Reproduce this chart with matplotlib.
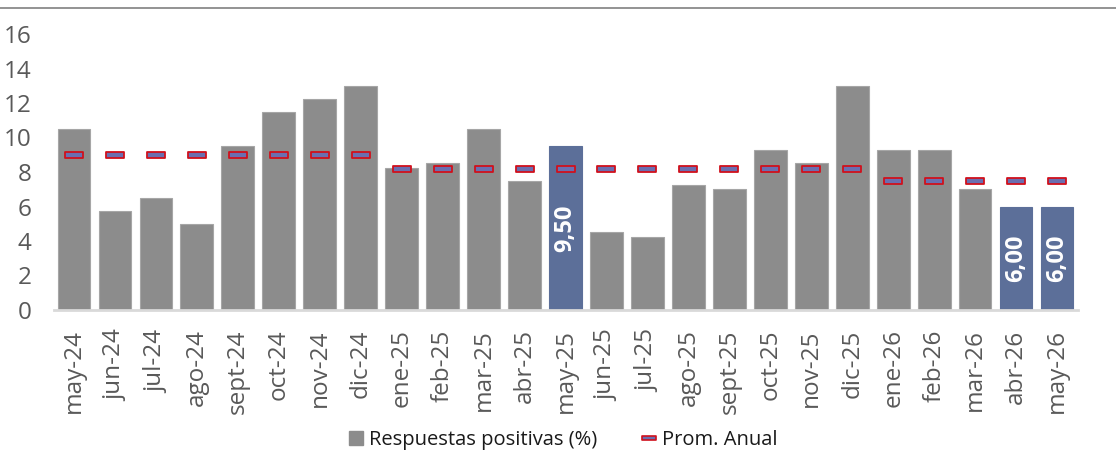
import matplotlib
matplotlib.use("Agg")
import matplotlib.pyplot as plt
from matplotlib.path import Path
from matplotlib.lines import Line2D
from matplotlib.patches import Patch

plt.rcParams['font.family'] = ['Open Sans', 'DejaVu Sans']

months = ["may-24", "jun-24", "jul-24", "ago-24", "sept-24", "oct-24", "nov-24", "dic-24",
          "ene-25", "feb-25", "mar-25", "abr-25", "may-25", "jun-25", "jul-25", "ago-25",
          "sept-25", "oct-25", "nov-25", "dic-25", "ene-26", "feb-26", "mar-26", "abr-26", "may-26"]
respuestas = [10.5, 5.75, 6.5, 5.0, 9.5, 11.5, 12.25, 13.0,
              8.25, 8.5, 10.5, 7.5, 9.5, 4.5, 4.25, 7.25,
              7.0, 9.25, 8.5, 13.0, 9.25, 9.25, 7.0, 6.0, 6.0]
prom_anual = [9.0] * 8 + [8.15] * 12 + [7.5] * 5
highlight = ["may-25", "abr-26", "may-26"]

W, H = 1116, 468
fig = plt.figure(figsize=(W / 100, H / 100), dpi=100)
ax = fig.add_axes([53.5 / W, 1 - 310 / H, (1077.5 - 53.5) / W, (310 - 34) / H])

x = list(range(len(months)))
gray = "#8c8c8c"
blue = "#5c6f99"
colors = [blue if m in highlight else gray for m in months]
edges = ["#5c6f99" if m in highlight else "#a6a6a6" for m in months]
ax.bar(x, respuestas, width=0.8, color=colors, edgecolor=edges, linewidth=0.8, zorder=2)

for xi, m, v in zip(x, months, respuestas):
    if m in highlight:
        ax.text(xi, v / 2, f"{v:.2f}".replace(".", ","), rotation=90,
                ha="center", va="center", color="white", fontsize=17, fontweight="bold", zorder=4)

rect = Path([(-0.5, -0.15), (0.5, -0.15), (0.5, 0.15), (-0.5, 0.15), (-0.5, -0.15)],
            [Path.MOVETO, Path.LINETO, Path.LINETO, Path.LINETO, Path.CLOSEPOLY])
ax.plot(x, prom_anual, linestyle="none", marker=rect, markersize=12.5,
        markerfacecolor="#6a6fb0", markeredgecolor="#d0101c", markeredgewidth=1.3, zorder=3)

ax.set_xlim(-0.5, len(months) - 0.5)
ax.set_ylim(0, 16)
ax.set_yticks(range(0, 17, 2))
ax.set_xticks(x)
ax.set_xticklabels(months, rotation=90)
ax.tick_params(axis="both", length=0, labelsize=17.5, labelcolor="#595959")
ax.tick_params(axis="x", pad=14)
ax.tick_params(axis="y", pad=16)
for s in ["top", "right", "left"]:
    ax.spines[s].set_visible(False)
ax.spines["bottom"].set_color("#d9d9d9")
ax.spines["bottom"].set_linewidth(2)

fig.add_artist(Line2D([0, 1], [1 - 8 / H, 1 - 8 / H], color="#808080", linewidth=1.2))

handles = [Patch(facecolor=gray, edgecolor=gray),
           Line2D([], [], linestyle="none", marker=rect, markersize=10,
                  markerfacecolor="#6a6fb0", markeredgecolor="#d0101c", markeredgewidth=1.2)]
leg = fig.legend(handles, ["Respuestas positivas (%)", "Prom. Anual"], loc="center",
                 bbox_to_anchor=(563 / W, 1 - 440 / H), ncol=2, frameon=False, fontsize=14.5,
                 handlelength=0.7, handleheight=0.7, handletextpad=0.3, columnspacing=2.2)
for t in leg.get_texts():
    t.set_color("#1a1a1a")

fig.savefig("out.png", dpi=100)
